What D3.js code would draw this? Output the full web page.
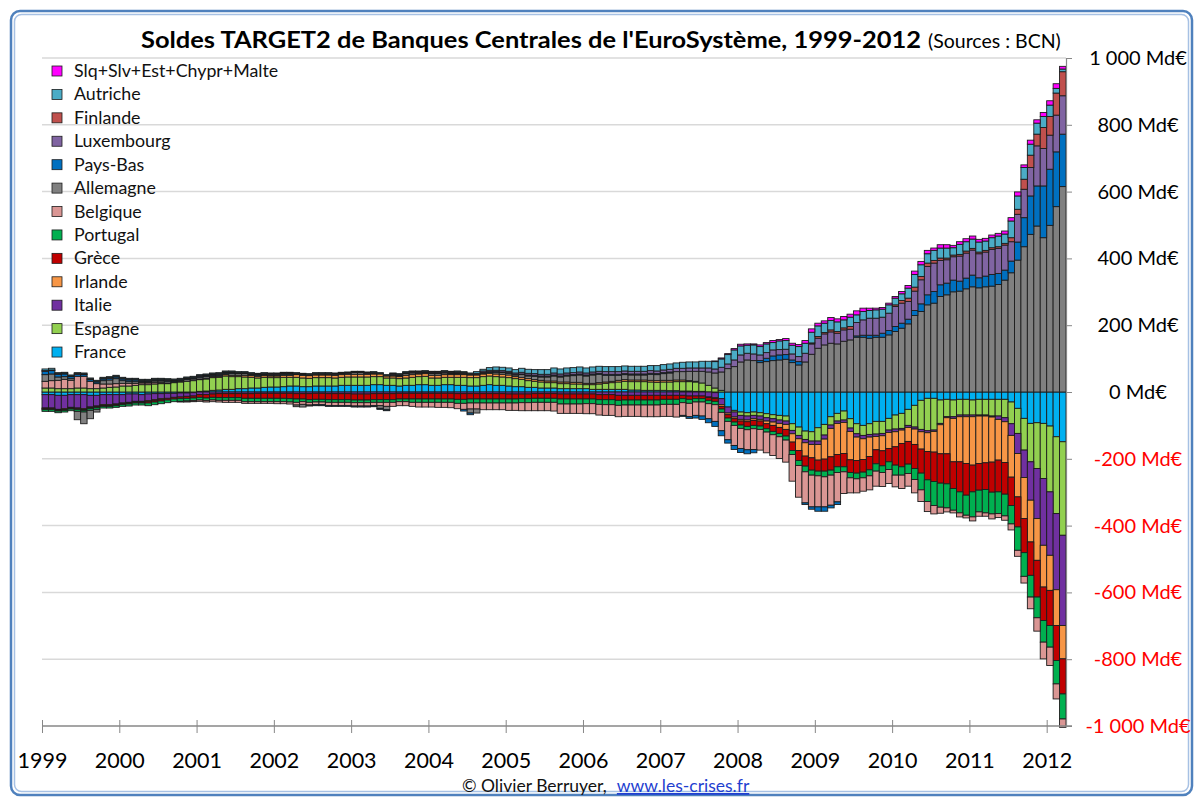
<!DOCTYPE html>
<html>
<head>
<meta charset="utf-8">
<script src="https://cdn.jsdelivr.net/npm/d3@7"></script>
<style>
  body { margin: 0; background: #fff; }
  text { font-family: Lato, "Open Sans", sans-serif; }
</style>
</head>
<body>
<svg id="chart" width="1198" height="798"></svg>
<script>
// Soldes TARGET2 mensuels (Md€), janvier 1999 -> mars 2012
const france = [
  -8,-8,-10,-10,-8,-8,-8,-10,-10,-8,-8,-8,
  -8,-6,-6,-8,-6,-5,-5,-4,-4,-3,-3,-2,
  2,3,5,6,8,8,10,10,12,12,14,15,
  15,16,18,18,16,16,18,18,18,18,20,20,
  20,20,20,22,22,20,20,18,20,20,22,22,
  20,20,22,22,20,20,18,18,20,22,20,20,
  18,16,16,14,14,12,12,12,10,10,10,10,
  10,8,8,8,8,8,8,6,6,5,5,5,
  5,4,4,3,3,2,2,0,-2,-20,-45,-55,
  -60,-62,-60,-62,-65,-68,-70,-72,-95,-105,-117,-119,
  -107,-97,-74,-64,-57,-80,-95,-100,-95,-88,-88,-79,
  -69,-64,-52,-40,-25,-19,-19,-24,-22,-24,-22,-22,
  -24,-22,-22,-22,-22,-22,-30,-49,-79,-94,-92,-94,
  -102,-134,-149
];
const espagne = [
  12,12,10,10,10,12,12,10,10,12,14,15,
  18,18,20,22,22,24,25,25,28,30,32,34,
  35,36,38,38,40,38,36,35,32,30,30,28,
  28,28,26,26,26,25,25,25,25,24,24,25,
  25,25,25,24,24,22,22,22,22,24,24,25,
  22,22,22,22,24,24,25,25,26,26,26,25,
  25,24,22,20,18,18,16,16,15,15,14,14,
  12,14,16,18,20,22,24,25,25,26,25,24,
  25,26,27,28,28,28,25,20,12,5,0,-5,
  -10,-10,-10,-10,-12,-12,-14,-15,-20,-25,-25,-28,
  -40,-32,-25,-23,-27,-28,-30,-30,-32,-38,-36,-35,
  -42,-45,-48,-65,-87,-97,-95,-70,-52,-50,-47,-47,
  -45,-47,-47,-50,-50,-55,-65,-75,-95,-115,-137,-165,
  -197,-230,-280
];
const italie = [
  -40,-40,-42,-40,-38,-40,-42,-35,-32,-30,-30,-28,
  -25,-25,-22,-20,-20,-18,-15,-15,-12,-12,-10,-10,
  -8,-8,-6,-5,-5,-5,-5,-5,-5,-4,-4,-4,
  -4,-4,-4,-5,-5,-5,-4,-4,-5,-5,-5,-5,
  -6,-6,-6,-5,-5,-5,-5,-4,-4,-4,-4,-4,
  -4,-4,-4,-4,-5,-5,-5,-5,-5,-5,-5,-5,
  -6,-6,-6,-6,-5,-5,-5,-5,-6,-6,-6,-6,
  -6,-6,-8,-8,-8,-10,-10,-10,-10,-10,-10,-10,
  -10,-10,-10,-10,-12,-12,-12,-15,-15,-18,-18,-15,
  -12,-12,-10,-10,-10,-10,-10,-10,-10,-10,-10,-10,
  -10,-12,-10,-7,-7,-10,-10,-10,-8,-7,-7,-7,
  -8,-5,-6,-6,-7,-6,-4,-4,-3,-5,-5,-5,
  -5,-3,-3,-3,-10,-12,-35,-60,-82,-115,-150,-200,
  -190,-228,-270
];
const irlande = [
  -2,-2,-2,-2,-2,-2,-2,-2,-2,-2,-2,-2,
  -2,-2,-2,-2,-2,-2,-2,0,0,0,0,0,
  2,2,3,3,4,4,4,5,5,5,5,5,
  5,6,6,8,8,8,8,8,8,8,8,8,
  8,8,8,8,8,6,6,6,8,8,8,8,
  8,8,8,8,8,8,8,8,8,8,8,8,
  8,6,6,6,5,5,5,5,5,5,5,5,
  4,4,4,4,4,5,5,5,5,5,5,5,
  5,5,5,5,3,2,0,-2,-3,-5,-5,-5,
  -5,-5,-5,-5,-8,-10,-12,-15,-25,-35,-40,-40,
  -47,-60,-85,-93,-93,-85,-70,-62,-58,-40,-45,-48,
  -45,-40,-42,-46,-52,-56,-62,-87,-108,-130,-135,-140,
  -145,-142,-140,-135,-122,-122,-125,-130,-123,-125,-125,-125,
  -105,-107,-100
];
const grece = [
  -3,-3,-3,-3,-3,-3,-3,-3,-3,-3,-3,-3,
  -3,-3,-3,-3,-5,-5,-5,-5,-5,-5,-6,-6,
  -8,-10,-10,-12,-12,-12,-12,-14,-14,-15,-15,-15,
  -15,-15,-16,-16,-16,-18,-18,-18,-18,-18,-18,-18,
  -18,-18,-18,-18,-18,-18,-18,-17,-17,-17,-17,-17,
  -17,-17,-17,-17,-17,-17,-16,-16,-16,-16,-16,-16,
  -15,-15,-14,-14,-14,-14,-14,-14,-15,-15,-15,-15,
  -15,-15,-15,-15,-15,-15,-14,-14,-14,-14,-14,-14,
  -12,-12,-12,-10,-10,-8,-8,-8,-8,-8,-10,-10,
  -12,-14,-15,-15,-15,-18,-18,-20,-25,-30,-30,-37,
  -33,-36,-40,-37,-40,-38,-38,-38,-40,-42,-45,-40,
  -55,-70,-68,-72,-72,-85,-88,-88,-90,-80,-90,-95,
  -80,-80,-80,-90,-95,-95,-85,-90,-102,-100,-110,-100,
  -105,-105,-105
];
const portugal = [
  -5,-5,-5,-5,-5,-5,-5,-5,-5,-5,-5,-5,
  -5,-6,-6,-6,-8,-8,-8,-8,-8,-8,-8,-8,
  -8,-8,-8,-8,-8,-8,-8,-10,-10,-10,-10,-10,
  -10,-10,-10,-10,-8,-8,-8,-8,-8,-8,-8,-8,
  -8,-8,-8,-8,-8,-8,-8,-8,-8,-10,-10,-10,
  -10,-10,-10,-10,-12,-12,-12,-12,-12,-12,-12,-12,
  -12,-12,-12,-12,-12,-12,-12,-12,-15,-15,-15,-15,
  -14,-14,-14,-15,-15,-15,-15,-15,-15,-15,-15,-15,
  -15,-15,-15,-12,-12,-10,-10,-10,-10,-10,-10,-10,
  -10,-10,-10,-10,-10,-10,-10,-12,-12,-15,-17,-15,
  -14,-17,-15,-17,-15,-16,-17,-17,-18,-22,-20,-23,
  -30,-25,-28,-33,-50,-65,-72,-72,-72,-65,-63,-60,
  -75,-65,-70,-65,-65,-65,-55,-70,-71,-65,-62,-65,
  -65,-70,-75
];
const belgique = [
  20,22,25,28,25,35,35,22,15,12,10,10,
  8,8,6,5,5,4,3,2,0,-2,-3,-3,
  -4,-4,-5,-5,-6,-6,-6,-5,-5,-5,-5,-5,
  -6,-6,-6,-8,-8,-8,-8,-8,-10,-10,-10,-10,
  -10,-10,-10,-10,-10,-12,-12,-12,-12,-12,-14,-14,
  -14,-15,-15,-16,-16,-18,-18,-18,-20,-20,-20,-20,
  -22,-22,-24,-24,-25,-25,-25,-26,-28,-28,-28,-28,
  -30,-30,-32,-32,-32,-34,-34,-34,-34,-35,-35,-35,
  -36,-36,-38,-38,-40,-40,-42,-45,-50,-55,-55,-60,
  -60,-60,-62,-62,-62,-62,-65,-66,-80,-95,-93,-95,
  -93,-90,-90,-88,-65,-45,-42,-40,-42,-45,-42,-42,
  -35,-40,-38,-40,-35,-30,-25,-18,-12,-8,-12,-8,
  -12,-13,-10,-15,-12,-13,-18,-18,-20,-35,-40,-50,
  -55,-45,-25
];
const allemagne = [
  20,20,10,8,5,-25,-35,-25,-8,10,12,15,
  8,5,5,3,3,5,5,5,3,3,5,5,
  5,5,3,3,3,5,5,5,3,3,3,3,
  3,3,3,-5,-8,-3,3,3,3,3,3,3,
  5,5,3,3,-8,-10,3,3,5,5,3,3,
  5,5,5,3,3,3,-12,-12,3,3,5,5,
  5,5,8,8,10,10,12,15,15,18,20,22,
  22,25,25,20,18,15,15,15,15,15,18,18,
  20,22,25,25,28,30,35,40,45,55,70,76,
  90,96,94,88,91,94,96,98,88,81,90,113,
  131,141,146,144,152,156,164,164,161,164,164,171,
  181,191,204,229,241,261,266,286,291,300,302,309,
  315,312,315,317,322,335,357,395,435,472,497,462,
  499,555,615
];
const paysBas = [
  10,10,8,8,6,6,5,5,5,5,5,5,
  5,5,5,3,3,3,3,3,3,3,3,3,
  3,3,3,3,3,3,2,2,2,2,2,2,
  2,2,2,2,2,2,-3,-3,-2,-2,-2,-2,
  -3,-3,-3,-3,-3,-3,2,2,2,2,2,2,
  2,2,2,2,2,-5,-5,2,2,2,2,2,
  2,2,2,3,3,3,3,3,3,3,3,3,
  3,3,3,3,3,3,3,3,3,3,3,3,
  3,3,0,-3,-5,-8,-10,-12,-15,-15,-10,-12,
  -12,-12,-10,6,10,14,15,14,8,10,-5,-7,
  -13,-13,-8,-8,0,0,4,6,9,6,12,13,
  15,15,14,15,23,30,35,35,35,35,30,32,
  35,30,32,35,33,30,35,54,87,115,120,155,
  168,164,157
];
const luxembourg = [
  2,2,2,2,2,2,2,2,2,2,2,2,
  2,2,2,2,2,2,2,2,2,2,2,2,
  2,2,2,2,2,2,2,2,2,2,2,2,
  2,2,2,2,2,2,2,2,2,2,2,2,
  2,2,2,2,2,2,2,2,2,2,2,2,
  3,3,3,3,3,3,3,3,4,4,4,4,
  4,4,5,5,5,5,5,6,6,6,6,6,
  6,6,6,8,8,8,8,8,8,8,8,8,
  8,8,10,10,10,10,10,12,12,14,14,20,
  21,20,20,17,17,18,16,16,18,15,26,31,
  30,33,34,32,34,32,40,46,51,51,48,52,
  60,60,53,58,72,85,85,73,70,70,75,75,
  75,72,72,75,75,75,58,83,85,85,120,112,
  102,110,115
];
const finlande = [
  0,0,0,0,0,0,0,0,0,0,0,0,
  0,0,0,0,0,0,0,0,0,0,0,0,
  0,0,0,0,0,0,0,0,0,0,0,0,
  0,0,0,0,0,0,0,0,0,0,0,0,
  0,0,0,0,0,0,0,0,0,0,0,0,
  0,0,0,0,0,0,0,0,0,0,0,0,
  0,0,0,0,0,0,0,0,0,0,0,0,
  0,0,0,0,0,0,0,0,0,0,0,0,
  0,0,0,0,0,0,0,0,0,0,0,0,
  0,0,0,0,0,0,0,0,0,0,0,3,
  5,4,6,5,6,8,0,0,0,0,0,0,
  5,8,10,12,10,10,8,7,5,5,5,6,
  5,5,5,5,5,5,12,15,30,37,35,63,
  56,66,72
];
const autriche = [
  5,5,3,3,3,3,3,3,3,3,3,3,
  3,3,3,3,3,3,3,3,3,3,3,3,
  3,3,3,3,3,3,2,2,2,2,2,2,
  2,2,2,2,2,2,2,2,2,2,2,2,
  2,2,2,2,2,2,2,2,2,2,2,2,
  2,2,2,2,3,3,3,5,5,8,10,10,
  10,10,12,12,12,14,14,15,15,15,15,15,
  15,15,15,15,15,15,15,15,15,15,15,16,
  16,16,16,18,18,18,20,20,22,25,28,30,
  27,24,27,25,26,22,26,26,26,30,30,32,
  32,28,28,29,24,28,23,25,23,25,24,25,
  20,20,30,38,35,28,30,30,30,22,30,28,
  28,30,28,30,32,28,50,40,35,33,33,33,
  34,14,8
];
const slqSlvEst = [
  0,0,0,0,0,0,0,0,0,0,0,0,
  0,0,0,0,0,0,0,0,0,0,0,0,
  0,0,0,0,0,0,0,0,0,0,0,0,
  0,0,0,0,0,0,0,0,0,0,0,0,
  0,0,0,0,0,0,0,0,0,0,0,0,
  0,0,0,0,0,0,0,0,0,0,0,0,
  0,0,0,0,0,0,0,0,0,0,0,0,
  0,0,0,0,0,0,0,0,0,0,0,0,
  0,0,0,0,0,0,0,0,2,3,3,4,
  5,4,3,5,4,6,4,6,6,6,8,10,
  8,7,9,9,10,9,12,10,7,5,5,5,
  5,7,8,10,10,10,7,10,10,7,8,9,
  9,8,8,8,8,9,10,12,8,12,10,12,
  13,14,8
];

const seriesNames = ["France", "Espagne", "Italie", "Irlande", "Grèce", "Portugal", "Belgique",
  "Allemagne", "Pays-Bas", "Luxembourg", "Finlande", "Autriche", "Slq+Slv+Est+Chypr+Malte"];
const seriesValues = [france, espagne, italie, irlande, grece, portugal, belgique,
  allemagne, paysBas, luxembourg, finlande, autriche, slqSlvEst];
const seriesColors = ["#00B0F0", "#92D050", "#7030A0", "#F79646", "#C00000", "#00B050", "#DA9694",
  "#808080", "#0070C0", "#8064A2", "#C0504D", "#4BACC6", "#FF00FF"];

const years = d3.range(1999, 2013);
const yTicks = [1000, 800, 600, 400, 200, 0, -200, -400, -600, -800, -1000];

const nMonths = france.length;
const rows = d3.range(nMonths).map(function(i) {
  let row = { month: i };
  seriesNames.forEach(function(name, k) { row[name] = seriesValues[k][i]; });
  return row;
});

function formatMd(v) {
  let s = String(Math.abs(v)).replace(/\B(?=(\d{3})+(?!\d))/g, " ");
  return (v < 0 ? "-" : "") + s + " Md€";
}

const svg = d3.select("#chart");

// cadre façon Excel
svg.append("rect")
  .attr("x", 11).attr("y", 11).attr("width", 1181).attr("height", 784)
  .attr("rx", 9).attr("fill", "#fff")
  .attr("stroke", "#4F81BD").attr("stroke-width", 2.5);
svg.append("rect")
  .attr("x", 14.5).attr("y", 14.5).attr("width", 1174).attr("height", 777)
  .attr("rx", 7).attr("fill", "none")
  .attr("stroke", "#A7C1E4").attr("stroke-width", 1.5);

const PLOT = { left: 42, right: 1066, top: 58, bottom: 726 };

const x = d3.scaleBand()
  .domain(d3.range(nMonths))
  .range([PLOT.left, PLOT.right])
  .padding(0);
const xTime = d3.scaleLinear().domain([0, nMonths]).range([PLOT.left, PLOT.right]);
const y = d3.scaleLinear().domain([-1000, 1000]).range([PLOT.bottom, PLOT.top]);

// grille
svg.append("g")
  .selectAll("line")
  .data(yTicks.filter(d => d > -1000))
  .join("line")
  .attr("x1", PLOT.left).attr("x2", PLOT.right)
  .attr("y1", d => y(d)).attr("y2", d => y(d))
  .attr("stroke", "#D9D9D9").attr("stroke-width", 1.5);

// barres empilées (positifs vers le haut, négatifs vers le bas)
const stack = d3.stack()
  .keys(seriesNames)
  .offset(d3.stackOffsetDiverging);
const stacked = stack(rows);

svg.append("g")
  .selectAll("g")
  .data(stacked)
  .join("g")
  .attr("fill", (d, k) => seriesColors[k])
  .selectAll("rect")
  .data(d => d.filter(s => Math.abs(s[1] - s[0]) > 0.5))
  .join("rect")
  .attr("x", d => x(d.data.month))
  .attr("width", x.bandwidth())
  .attr("y", d => y(Math.max(d[0], d[1])))
  .attr("height", d => Math.abs(y(d[0]) - y(d[1])))
  .attr("stroke", "#1c1c1c")
  .attr("stroke-width", 0.9);

// axe horizontal
const xAxis = svg.append("g")
  .attr("transform", "translate(0," + PLOT.bottom + ")")
  .call(d3.axisBottom(xTime)
    .tickValues(years.map((yr, k) => k * 12))
    .tickFormat((d, k) => years[k])
    .tickSize(7)
    .tickPadding(20));
xAxis.select(".domain").attr("stroke", "#878787").attr("stroke-width", 1.5)
  .attr("d", "M" + PLOT.left + ",0H1072");
xAxis.selectAll(".tick line").attr("stroke", "#878787").attr("y1", -6).attr("y2", 7);
xAxis.selectAll(".tick text")
  .style("font-family", "Lato, sans-serif")
  .style("font-size", "21.5px")
  .attr("fill", "#000");

// axe vertical à droite
const yAxis = svg.append("g")
  .attr("transform", "translate(" + PLOT.right + ",0)")
  .call(d3.axisRight(y).tickValues(yTicks).tickSize(6).tickFormat(""));
yAxis.select(".domain").attr("stroke", "#878787").attr("stroke-width", 1.2);
yAxis.selectAll(".tick line").attr("stroke", "#878787");

svg.append("g")
  .selectAll("text")
  .data(yTicks)
  .join("text")
  .attr("x", 1138)
  .attr("y", d => y(d) + 7)
  .attr("text-anchor", "middle")
  .style("font-size", "20px")
  .attr("fill", d => d < 0 ? "#FF0000" : "#000")
  .text(formatMd);

// légende
const legend = svg.append("g")
  .selectAll("g")
  .data(seriesNames.map((n, k) => ({ name: n, color: seriesColors[k] })).reverse())
  .join("g")
  .attr("transform", (d, k) => "translate(52," + (71 + k * 23.42) + ")");
legend.append("rect")
  .attr("x", 0).attr("y", -5).attr("width", 10).attr("height", 10)
  .attr("fill", d => d.color)
  .attr("stroke", "#1c1c1c").attr("stroke-width", 0.8);
legend.append("text")
  .attr("x", 22).attr("y", 6)
  .style("font-size", "17.8px")
  .attr("fill", "#111")
  .text(d => d.name);

// titre
const title = svg.append("text")
  .attr("x", 141).attr("y", 48)
  .attr("fill", "#000");
title.append("tspan")
  .style("font-size", "23px").style("font-weight", "bold")
  .attr("textLength", 780).attr("lengthAdjust", "spacingAndGlyphs")
  .text("Soldes TARGET2 de Banques Centrales de l'EuroSystème, 1999-2012");
title.append("tspan")
  .attr("dx", 7)
  .style("font-size", "19.5px")
  .text("(Sources : BCN)");

// source
const foot = svg.append("text")
  .attr("x", 462).attr("y", 792)
  .style("font-size", "17.5px")
  .attr("fill", "#111");
foot.append("tspan").text("© Olivier Berruyer, ");
foot.append("tspan")
  .attr("dx", 6)
  .attr("fill", "#1F3FD0")
  .style("text-decoration", "underline")
  .text("www.les-crises.fr");
</script>
</body>
</html>
